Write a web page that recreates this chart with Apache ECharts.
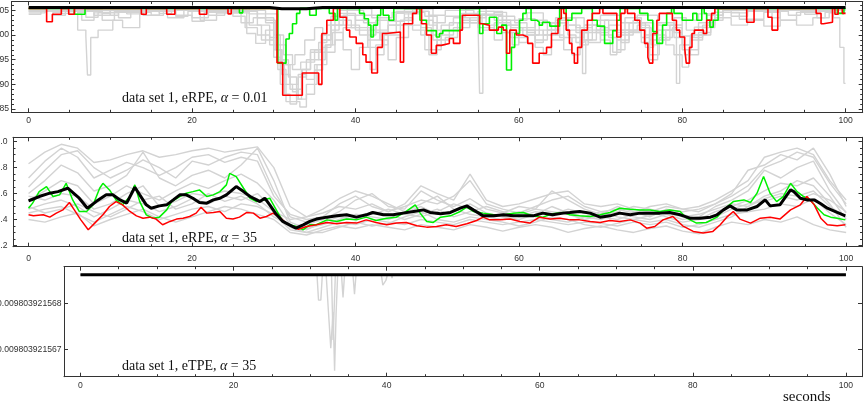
<!DOCTYPE html>
<html>
<head>
<meta charset="utf-8">
<script src="https://cdn.jsdelivr.net/npm/echarts@6/dist/echarts.min.js"></script>
<style>
  html, body { margin: 0; padding: 0; background: #fff; }
  #chart { width: 867px; height: 402px; }
</style>
</head>
<body>
<div id="chart"></div>
<script>
// ---------- ticks ----------
const xMajor = [0, 20, 40, 60, 80, 100]
const xMinor = [5, 10, 15, 25, 30, 35, 45, 50, 55, 65, 70, 75, 85, 90, 95]
const y1Major = [85, 90, 95, 100, 105]
const y1Minor = [86, 87, 88, 89, 91, 92, 93, 94, 96, 97, 98, 99, 101, 102, 103, 104, 106]
const y2Major = [0.2, 0.4, 0.6, 0.8, 1.0]
const y2Minor = [0.25, 0.3, 0.35, 0.45, 0.5, 0.55, 0.65, 0.7, 0.75, 0.85, 0.9, 0.95]
const y3Major = [0.009803921567, 0.009803921568]

// ---------- panel 1: eRPE, alpha = 0.01 (step traces, [t, value] change points) ----------
const p1Black = [[0, 105.6], [29.5, 105.6], [31, 105.35], [34, 105.35], [36, 105.6], [100, 105.6]]
const p1Red = [[0, 105.4], [2.2, 102.7], [2.9, 104.2], [4.0, 105.4], [4.9, 104.2], [5.6, 105.4], [13.8, 104.2], [14.4, 105.4], [16.9, 104.2], [17.9, 105.4], [20.9, 104.2], [21.8, 105.4], [24.4, 104.3], [24.8, 105.4], [30.4, 94.4], [31.1, 87.8], [33.5, 92.3], [35.5, 90], [35.9, 100.3], [36.5, 103], [37.3, 105.4], [38.1, 103.6], [38.9, 101], [39.3, 99.6], [40.1, 98.3], [40.9, 96], [41.3, 94.5], [42, 92.3], [42.7, 97.5], [43.3, 100.3], [43.8, 100.6], [45.5, 94.5], [45.9, 102.3], [47, 104.4], [47.5, 105.4], [48.1, 102.3], [48.7, 100], [49.3, 96.3], [49.9, 97.9], [50.5, 98.3], [51.5, 99.3], [52, 98.3], [52.8, 101], [53.1, 104], [55.2, 102.3], [55.6, 102], [56.4, 101], [57.5, 101.6], [58.1, 101], [58.5, 96.3], [58.9, 101], [59.7, 100], [60.5, 99.6], [61.1, 98.3], [61.7, 94.3], [62.5, 96.3], [63.4, 97.5], [64, 100.3], [64.8, 103.3], [65.2, 105.4], [65.5, 104.4], [65.8, 101], [66.2, 98.3], [66.5, 96.3], [66.8, 94.3], [67.2, 97.5], [67.7, 101], [68.4, 103], [69, 104.4], [69.9, 105.4], [70.3, 104.4], [72, 99.6], [72.5, 104.4], [73, 105.4], [73.3, 104.4], [74.2, 103], [74.8, 101], [75.4, 98.3], [75.8, 95.5], [76, 94.3], [76.4, 100.3], [76.9, 103], [77.2, 104.4], [78.8, 103], [79.3, 101], [79.7, 99.6], [80.3, 97.5], [80.5, 94.3], [80.9, 97.5], [81.2, 100.3], [81.5, 101], [82.6, 100.3], [83, 103], [83.6, 104.4], [84, 105.4], [87.9, 102.6], [88.8, 105.4], [90.5, 103.6], [91, 101], [91.7, 105.4], [96.4, 104.4], [97, 102.3], [97.3, 102.6], [98.4, 105.4], [98.7, 104.2], [99.1, 105.4], [99.6, 104.4], [100, 104.4]]
const p1Green = [[0, 105.4], [5.6, 104.2], [6.9, 105.4], [25.8, 104.5], [26.2, 105.4], [30.5, 94.3], [31.5, 99.2], [31.9, 100.3], [32.3, 102.3], [32.8, 104.4], [33.2, 105.4], [34.4, 104], [35.2, 105.4], [36.8, 104.4], [37.5, 103], [37.8, 105.4], [40.5, 104.4], [41.1, 103.3], [41.6, 102], [41.9, 99.6], [42.2, 102], [42.7, 104], [43.1, 105.4], [43.4, 104], [44.1, 103], [44.7, 105.4], [47.9, 103], [48.7, 100.9], [49.9, 99.6], [50.3, 100.3], [50.7, 100.9], [52.8, 105.4], [55.2, 100.3], [55.6, 102.3], [56.4, 103.6], [57.3, 100.3], [57.9, 102], [58.5, 92.9], [59.1, 97.5], [59.5, 100.3], [60.1, 103], [60.5, 104.4], [60.9, 105.4], [61.5, 103], [62.2, 102.6], [62.5, 102], [62.9, 102.6], [63.8, 101.8], [65, 105.4], [65.8, 103], [66.5, 104.4], [67.7, 105.4], [69, 103], [69.6, 101.8], [70.5, 98.3], [71.5, 100.9], [72, 103], [72.4, 105.4], [74.8, 104.4], [75.8, 103], [76.4, 100.7], [76.9, 98.3], [77.6, 102], [78.1, 104.4], [78.7, 105.4], [79, 104.4], [80, 103], [81.3, 104.4], [81.8, 103], [82.4, 105.4], [82.7, 104.4], [83, 103], [83.4, 101.6], [83.8, 103], [84.4, 105.4], [99, 104.4], [99.8, 105.4], [100, 105.4]]
const p1Gray1 = [[0, 105.2], [3, 104.6], [4, 105.2], [9, 104.4], [10, 105.2], [26.7, 100.3], [27.8, 98.3], [29, 101], [30, 95.5], [30.8, 90], [31.5, 86.5], [33.2, 85.4], [34, 88], [35, 92.9], [36, 97.5], [37, 101], [38, 104.4], [40, 103], [41.5, 99], [43, 100.5], [45, 104.4], [46, 105.2], [48, 103], [49.5, 99], [50.5, 101], [53, 104.4], [55, 103], [55.2, 88.2], [55.6, 101], [57, 102.5], [59, 99.5], [61, 101], [63, 100], [64.5, 103], [66, 101], [67.8, 92.2], [68.2, 99], [69.5, 101], [72, 100], [74, 101], [75.5, 97.5], [76.5, 99], [78, 101], [79.3, 90.2], [79.7, 98], [81, 100], [83, 103], [84.5, 105.2], [100, 105.2]]
const p1Gray2 = [[0, 104.8], [6, 101], [7, 99.8], [7.2, 91.9], [7.6, 99.5], [8.5, 101], [10.3, 103], [11.5, 101.5], [13.6, 105], [17, 103.5], [19, 105], [21, 103], [23, 104.5], [27, 102], [28.5, 99], [30, 97], [31, 94], [32, 89], [33, 87], [34, 90], [35.3, 94], [36.5, 98], [37.5, 103], [39.5, 101.5], [41.8, 93], [42.5, 98], [44, 102], [46, 103.5], [47, 101], [48.5, 97], [50.5, 100], [52, 101.5], [54, 103.5], [56, 104.8], [58, 102], [60, 101], [62, 99], [63.5, 101], [65, 99.5], [66.5, 96], [67.5, 99], [69, 102], [70, 100], [71.5, 96.5], [72.5, 101], [74, 103], [75, 99.5], [76, 95], [77, 99], [78.5, 102], [80, 98], [81, 96], [82, 100], [83.5, 103], [85, 105], [91, 103.5], [92, 105], [100, 105]]
const p1Gray3 = [[0, 105], [8, 104], [10, 105], [14, 104], [16, 105], [20, 103.5], [22, 105], [29, 103], [30.2, 97], [31, 92], [32, 90], [33, 91.5], [34, 95], [35.5, 98.5], [36.5, 102], [38.5, 104], [40, 101], [41.5, 97.5], [42.5, 96], [43.5, 100], [45.5, 103], [47, 104.8], [49, 102], [50, 98], [51, 99.5], [52.5, 102.5], [55, 104.8], [57, 103], [59, 101.5], [60.5, 100], [62, 97.5], [63, 96], [64, 99], [65.5, 102], [67, 100.5], [68.5, 98.5], [70, 101.5], [71, 99.5], [72, 97], [73, 101], [74.5, 102], [76, 99], [77.5, 101], [79, 99.5], [80.3, 96], [81, 99], [82.5, 102], [84, 104.6], [86, 103.8], [88, 104.8], [93, 104], [94.5, 104.8], [98.5, 103.5], [99.3, 97.5], [99.8, 90.2], [100, 90.2]]
const p1Gray4 = [[0, 104.5], [2, 105.1], [5, 104.2], [6.5, 103], [8, 104.5], [11, 103.5], [12.5, 105], [18, 104], [20, 102.8], [21.5, 104.6], [25, 105], [28, 103.5], [30, 100], [31.2, 96], [32.3, 93], [33.3, 94.5], [35, 97], [36, 99], [37, 103], [38, 105], [41, 102.5], [42.5, 100.5], [44, 102], [46.5, 104.6], [48.5, 103.8], [50, 101], [51.5, 102.5], [53, 104], [57, 104.6], [58.5, 100.5], [59.2, 98], [60, 101.5], [62, 103], [63.5, 101], [65, 103.5], [67, 101.5], [69, 103], [71, 101], [73, 103.5], [75, 101.5], [76.2, 98], [77, 101], [79, 103.5], [80.5, 101], [82, 102.5], [84, 104.6], [87, 103.2], [90, 104.6], [92, 103], [94, 104.6], [96.5, 103.5], [97.5, 104.6], [100, 104.6]]
const p1Gray5 = [[0, 105.3], [3, 104], [4.5, 105.3], [12, 104.3], [14, 105.3], [22, 104], [24, 105.3], [27, 104.3], [30.5, 98], [31.5, 94], [32.6, 96], [33.8, 99], [35, 101.5], [36, 99], [37, 102], [39, 105.3], [42, 103.5], [44.5, 104.6], [47, 105.3], [49.5, 102.5], [51, 103.8], [53.5, 105.3], [56, 104], [58, 103], [61, 104.5], [63, 102.5], [66, 103.5], [68, 102], [70, 104], [72.5, 102.5], [74.5, 104], [77, 102], [80, 103], [82, 104.3], [84, 105.3], [86, 104.5], [88, 105.3], [95, 104.2], [96.5, 105.3], [100, 105.3]]
const p1Gray6 = [[0, 104.8], [9, 103], [10.5, 104.8], [18, 103.8], [19.5, 104.8], [28, 102], [29.5, 99.5], [30.5, 95], [31.3, 88], [32, 86], [32.8, 89], [33.5, 93], [34.5, 96.5], [35.8, 100], [37, 103.8], [39, 102], [40.5, 100], [42.5, 103], [45, 104.8], [49, 104], [51, 105], [54.5, 104.2], [56, 102], [57.5, 103.8], [59.5, 102.5], [61, 100.5], [62, 98.5], [63, 101], [64.5, 103.5], [66, 102], [67.5, 98], [68.5, 101], [70.5, 103], [72, 100.5], [73.5, 102.5], [75.5, 100], [77, 102.5], [79, 100.5], [80, 97], [81, 99.5], [82.5, 101.5], [84, 103.5], [86, 102], [88, 103], [90, 101.8], [92, 103], [94, 102], [96, 103.5], [98, 104.5], [100, 104.5]]
const p1Gray7 = [[0, 105.1], [6, 104.6], [7, 103.6], [8.5, 104.6], [15, 104], [16.5, 105.1], [25, 103.8], [26.5, 101.5], [28, 100], [29.5, 98], [30.5, 93], [31.5, 90], [32.3, 88.5], [33, 92], [34, 91], [35, 94], [36, 96.5], [37.5, 99], [38.5, 101.5], [40, 104], [43, 101], [44, 102.8], [46, 104.3], [48, 101.5], [49.3, 100], [50.5, 102], [52, 103.5], [54, 102.5], [55.5, 104.2], [58, 102], [60, 103.3], [62, 100], [64, 102.5], [66, 100], [67, 98.5], [68, 100.5], [70, 99], [71.2, 96], [72, 99], [73.5, 100.8], [75, 98.5], [76, 96], [77.2, 99.5], [78.8, 101.5], [80, 99.8], [81.5, 101.6], [83, 104], [85, 105.1], [100, 105.1]]
const p1Gray8 = [[0, 104.2], [1.5, 105], [4, 104.4], [5.5, 105], [10, 104], [11, 105], [16, 104.4], [17.5, 105], [23, 104.5], [26, 102.5], [27.5, 103.5], [29, 102.5], [30.2, 100], [30.8, 95], [31.8, 91.5], [32.8, 87], [33.4, 93], [34.5, 97], [35.5, 95], [36.3, 98], [37.2, 100.5], [38.5, 97], [39.5, 93], [40.5, 97.5], [41.5, 101], [43, 99], [44, 95], [45, 99.5], [46.5, 102], [48, 100], [49, 96], [50, 99], [51.5, 101], [53, 103], [55, 101.5], [57, 99], [58, 100.5], [60, 98.5], [61, 100], [62.5, 102.5], [64.5, 100], [65.5, 97], [66.5, 99.5], [68, 102], [69.5, 100.5], [71, 102], [72.5, 98.5], [73.5, 100.5], [75, 102.5], [76.5, 100], [78, 98], [79, 96], [80, 93.5], [80.8, 97], [82, 100.5], [83.5, 104], [85, 105], [100, 105]]

// ---------- panel 2: eRPE, alpha = 35 ----------
const p2Black = [[0, 0.544], [0.5, 0.556], [1.3, 0.577], [2.6, 0.603], [3.6, 0.615], [4.8, 0.641], [6.2, 0.564], [7.2, 0.487], [8.3, 0.54], [9.5, 0.59], [10.3, 0.59], [11.2, 0.551], [12, 0.526], [13, 0.649], [13.6, 0.59], [14.4, 0.513], [15, 0.487], [16, 0.505], [16.9, 0.513], [17.7, 0.551], [18.5, 0.59], [19.3, 0.59], [20.1, 0.564], [20.9, 0.531], [21.8, 0.526], [22.6, 0.551], [23.4, 0.564], [24.2, 0.59], [25, 0.633], [25.4, 0.654], [26.3, 0.615], [27.1, 0.577], [27.9, 0.551], [28.3, 0.538], [28.9, 0.564], [29.5, 0.513], [30.3, 0.44], [31.1, 0.385], [31.9, 0.359], [32.7, 0.333], [33.6, 0.359], [34.4, 0.385], [35.2, 0.403], [36.5, 0.418], [37.7, 0.428], [38.9, 0.436], [40.1, 0.418], [41.3, 0.436], [42.1, 0.454], [43.4, 0.436], [44.6, 0.436], [45.8, 0.449], [47.1, 0.462], [48.3, 0.474], [49.1, 0.454], [50.4, 0.444], [51.6, 0.454], [52.8, 0.487], [53.6, 0.505], [54.4, 0.474], [55.6, 0.428], [56.9, 0.428], [58.1, 0.436], [59.3, 0.428], [60.5, 0.428], [61.7, 0.428], [62.9, 0.449], [64.1, 0.436], [65.4, 0.449], [66.2, 0.454], [67.4, 0.462], [68.7, 0.449], [69.9, 0.418], [71.1, 0.428], [72.3, 0.449], [73.6, 0.436], [74.8, 0.449], [76, 0.449], [77.2, 0.449], [78.4, 0.454], [79.7, 0.436], [80.9, 0.41], [82.1, 0.41], [83.4, 0.418], [84.2, 0.436], [85, 0.474], [85.8, 0.505], [86.6, 0.474], [87.9, 0.474], [89.1, 0.5], [90.1, 0.551], [90.7, 0.505], [91.9, 0.513], [93.2, 0.628], [93.6, 0.615], [94.4, 0.564], [95.2, 0.551], [96.1, 0.551], [96.9, 0.521], [97.7, 0.487], [98.9, 0.454], [99.9, 0.428]]
const p2Red = [[0, 0.436], [0.6, 0.428], [1.8, 0.436], [2.6, 0.418], [3.4, 0.449], [4.2, 0.474], [5, 0.531], [5.6, 0.474], [6.4, 0.397], [7.3, 0.321], [8.1, 0.372], [9.1, 0.436], [9.9, 0.5], [10.7, 0.538], [11.5, 0.513], [12.4, 0.462], [13.2, 0.428], [14, 0.41], [14.8, 0.418], [15.6, 0.403], [16.4, 0.359], [17.3, 0.385], [18.1, 0.403], [18.9, 0.41], [19.7, 0.423], [20.5, 0.449], [21.1, 0.495], [21.8, 0.449], [22.6, 0.454], [23.4, 0.462], [24.2, 0.41], [25, 0.403], [25.8, 0.418], [26.7, 0.454], [27.5, 0.449], [28.3, 0.41], [29.1, 0.423], [29.9, 0.449], [30.7, 0.418], [31.5, 0.37], [32.3, 0.346], [33, 0.325], [34, 0.346], [35.2, 0.359], [36.5, 0.377], [37.7, 0.367], [38.9, 0.377], [40.1, 0.372], [41.3, 0.397], [42.5, 0.377], [43.8, 0.359], [45, 0.372], [46.2, 0.377], [47.5, 0.351], [48.7, 0.341], [49.9, 0.346], [51.1, 0.359], [52.3, 0.346], [53.6, 0.367], [54.8, 0.392], [55.6, 0.418], [56.4, 0.397], [57.7, 0.397], [58.9, 0.403], [60.1, 0.385], [61.3, 0.372], [62.5, 0.418], [63.8, 0.403], [65, 0.41], [66.2, 0.397], [67.4, 0.397], [68.7, 0.385], [69.9, 0.377], [71.1, 0.392], [72.3, 0.385], [73.6, 0.397], [74.8, 0.372], [75.6, 0.333], [76.6, 0.346], [77.6, 0.397], [78.8, 0.423], [80, 0.351], [81.3, 0.308], [82.5, 0.295], [83.7, 0.308], [84.6, 0.359], [85.4, 0.418], [86.2, 0.462], [87, 0.403], [88.3, 0.372], [89.5, 0.41], [90.7, 0.418], [91.9, 0.403], [93.2, 0.474], [94.4, 0.513], [95.2, 0.577], [96.1, 0.513], [96.9, 0.41], [97.7, 0.359], [98.9, 0.351], [99.9, 0.359]]
const p2Green = [[0, 0.487], [0.5, 0.526], [1.3, 0.615], [2.2, 0.654], [3, 0.577], [3.8, 0.59], [4.6, 0.679], [5.4, 0.551], [6.2, 0.462], [7.1, 0.462], [7.9, 0.513], [8.7, 0.641], [9.1, 0.679], [9.9, 0.628], [10.7, 0.551], [11.5, 0.513], [12.4, 0.577], [13, 0.667], [13.6, 0.538], [14.4, 0.436], [15.2, 0.41], [16, 0.418], [16.9, 0.474], [17.5, 0.538], [18.5, 0.577], [19.3, 0.603], [20.1, 0.615], [20.9, 0.628], [21.8, 0.577], [22.6, 0.59], [23.4, 0.615], [24.2, 0.667], [24.6, 0.756], [25.4, 0.731], [26.3, 0.641], [27.1, 0.564], [27.9, 0.538], [28.7, 0.551], [29.5, 0.564], [30.3, 0.474], [31.1, 0.385], [31.9, 0.359], [32.7, 0.346], [33.6, 0.321], [34.4, 0.359], [35.2, 0.359], [36.5, 0.397], [37.7, 0.385], [38.9, 0.403], [40.1, 0.397], [41.3, 0.418], [42.5, 0.392], [43.8, 0.41], [45, 0.418], [46.2, 0.462], [47.3, 0.513], [47.9, 0.449], [48.7, 0.385], [49.5, 0.377], [50.4, 0.418], [51.6, 0.428], [52.8, 0.462], [53.6, 0.495], [54.4, 0.462], [55.6, 0.449], [56.9, 0.436], [58.1, 0.436], [59.3, 0.449], [60.5, 0.454], [61.7, 0.428], [62.9, 0.418], [64.1, 0.444], [65.4, 0.454], [66.2, 0.436], [67.4, 0.428], [68.7, 0.423], [69.9, 0.436], [71.1, 0.454], [72.3, 0.487], [73.6, 0.479], [74.8, 0.474], [76, 0.474], [77.2, 0.462], [78.4, 0.474], [79.7, 0.462], [80.5, 0.41], [81.7, 0.372], [82.9, 0.377], [84.2, 0.418], [85, 0.474], [86.2, 0.538], [87.5, 0.551], [88.3, 0.531], [89.1, 0.603], [89.9, 0.731], [90.1, 0.744], [90.7, 0.603], [91.5, 0.538], [92.3, 0.577], [93.2, 0.679], [94, 0.615], [94.8, 0.577], [95.6, 0.551], [96.5, 0.487], [97.3, 0.436], [98.1, 0.418], [98.9, 0.41], [99.9, 0.397]]
// gray runs sampled every 2 s
const t2 = [0, 2, 4, 6, 8, 10, 12, 14, 16, 18, 20, 22, 24, 26, 28, 30, 32, 34, 36, 38, 40, 42, 44, 46, 48, 50, 52, 54, 56, 58, 60, 62, 64, 66, 68, 70, 72, 74, 76, 78, 80, 82, 84, 86, 88, 90, 92, 94, 96, 98, 100]
const p2Gray1 = [0.83, 0.92, 0.98, 0.95, 0.84, 0.86, 0.90, 0.93, 0.88, 0.90, 0.93, 0.95, 0.92, 0.94, 0.96, 0.80, 0.50, 0.42, 0.45, 0.50, 0.48, 0.52, 0.46, 0.50, 0.55, 0.52, 0.58, 0.70, 0.52, 0.48, 0.45, 0.50, 0.55, 0.58, 0.50, 0.46, 0.48, 0.45, 0.50, 0.52, 0.48, 0.50, 0.55, 0.62, 0.70, 0.88, 0.92, 0.95, 0.90, 0.70, 0.55]
const p2Gray2 = [0.65, 0.78, 0.90, 0.93, 0.80, 0.72, 0.78, 0.86, 0.80, 0.72, 0.85, 0.82, 0.88, 0.92, 0.90, 0.62, 0.42, 0.38, 0.40, 0.46, 0.55, 0.60, 0.50, 0.48, 0.62, 0.55, 0.50, 0.56, 0.48, 0.45, 0.50, 0.48, 0.62, 0.55, 0.48, 0.44, 0.50, 0.46, 0.42, 0.48, 0.46, 0.48, 0.52, 0.60, 0.78, 0.82, 0.90, 0.86, 0.95, 0.75, 0.50]
const p2Gray3 = [0.60, 0.70, 0.82, 0.76, 0.62, 0.66, 0.74, 0.92, 0.72, 0.66, 0.74, 0.78, 0.72, 0.82, 0.95, 0.70, 0.38, 0.33, 0.36, 0.40, 0.44, 0.42, 0.40, 0.45, 0.50, 0.44, 0.46, 0.52, 0.45, 0.42, 0.40, 0.44, 0.50, 0.45, 0.42, 0.40, 0.45, 0.42, 0.40, 0.44, 0.40, 0.42, 0.50, 0.55, 0.62, 0.78, 0.72, 0.80, 0.85, 0.62, 0.45]
const p2Gray4 = [0.55, 0.62, 0.70, 0.66, 0.52, 0.58, 0.66, 0.60, 0.55, 0.62, 0.68, 0.64, 0.70, 0.75, 0.68, 0.55, 0.36, 0.32, 0.38, 0.42, 0.40, 0.46, 0.44, 0.40, 0.44, 0.48, 0.42, 0.46, 0.50, 0.46, 0.42, 0.46, 0.44, 0.48, 0.45, 0.42, 0.40, 0.44, 0.46, 0.42, 0.38, 0.40, 0.46, 0.50, 0.55, 0.62, 0.68, 0.66, 0.72, 0.58, 0.40]
const p2Gray5 = [0.40, 0.38, 0.42, 0.45, 0.35, 0.40, 0.44, 0.48, 0.42, 0.38, 0.42, 0.46, 0.50, 0.48, 0.44, 0.40, 0.30, 0.28, 0.32, 0.35, 0.33, 0.36, 0.34, 0.32, 0.36, 0.34, 0.32, 0.36, 0.34, 0.31, 0.34, 0.36, 0.34, 0.30, 0.33, 0.35, 0.32, 0.30, 0.33, 0.35, 0.31, 0.29, 0.34, 0.38, 0.36, 0.40, 0.38, 0.42, 0.36, 0.32, 0.30]
const p2Gray6 = [0.48, 0.52, 0.55, 0.50, 0.42, 0.48, 0.55, 0.52, 0.46, 0.50, 0.56, 0.52, 0.58, 0.55, 0.60, 0.48, 0.34, 0.30, 0.34, 0.38, 0.36, 0.40, 0.38, 0.36, 0.40, 0.38, 0.36, 0.40, 0.38, 0.36, 0.38, 0.40, 0.38, 0.36, 0.38, 0.37, 0.35, 0.38, 0.36, 0.38, 0.34, 0.36, 0.40, 0.44, 0.46, 0.48, 0.52, 0.50, 0.56, 0.45, 0.36]
const p2Gray7 = [0.58, 0.55, 0.60, 0.58, 0.48, 0.52, 0.60, 0.66, 0.50, 0.54, 0.60, 0.58, 0.62, 0.60, 0.56, 0.46, 0.40, 0.42, 0.48, 0.56, 0.62, 0.58, 0.52, 0.46, 0.52, 0.58, 0.48, 0.44, 0.42, 0.40, 0.44, 0.48, 0.46, 0.44, 0.40, 0.43, 0.46, 0.50, 0.48, 0.45, 0.42, 0.44, 0.48, 0.52, 0.50, 0.56, 0.60, 0.58, 0.62, 0.50, 0.42]
const p2Gray8 = [0.45, 0.48, 0.50, 0.44, 0.38, 0.44, 0.50, 0.46, 0.40, 0.44, 0.48, 0.50, 0.46, 0.52, 0.50, 0.44, 0.32, 0.30, 0.30, 0.34, 0.38, 0.35, 0.37, 0.42, 0.46, 0.40, 0.38, 0.42, 0.40, 0.38, 0.35, 0.38, 0.42, 0.40, 0.36, 0.34, 0.37, 0.40, 0.38, 0.40, 0.36, 0.34, 0.38, 0.42, 0.50, 0.58, 0.62, 0.70, 0.66, 0.52, 0.34]
const p2Gray9 = [0.72, 0.85, 0.95, 0.88, 0.72, 0.78, 0.84, 0.80, 0.74, 0.80, 0.88, 0.90, 0.84, 0.88, 0.85, 0.58, 0.44, 0.40, 0.42, 0.52, 0.58, 0.50, 0.46, 0.52, 0.66, 0.60, 0.55, 0.75, 0.55, 0.50, 0.52, 0.56, 0.60, 0.62, 0.52, 0.50, 0.52, 0.48, 0.46, 0.50, 0.48, 0.46, 0.52, 0.58, 0.66, 0.80, 0.85, 0.92, 0.88, 0.68, 0.52]
const p2Gray10 = [0.50, 0.45, 0.48, 0.52, 0.46, 0.42, 0.48, 0.55, 0.58, 0.48, 0.52, 0.60, 0.54, 0.58, 0.52, 0.42, 0.35, 0.36, 0.40, 0.44, 0.42, 0.44, 0.48, 0.44, 0.42, 0.46, 0.52, 0.48, 0.44, 0.42, 0.46, 0.42, 0.40, 0.38, 0.42, 0.46, 0.42, 0.40, 0.43, 0.46, 0.44, 0.40, 0.42, 0.48, 0.52, 0.54, 0.58, 0.55, 0.60, 0.55, 0.46]

// ---------- panel 3: eTPE, alpha = 35 ----------
const p3Level = 0.009803921568627
const p3Black = [[0, p3Level], [100, p3Level]]
const p3Gray1 = [[0, p3Level], [30.9, p3Level], [31.1, 0.00980392156807], [31.4, 0.00980392156807], [31.6, p3Level], [100, p3Level]]
const p3Gray2 = [[0, p3Level], [32.1, p3Level], [32.4, 0.00980392156781], [32.7, 0.00980392156702], [33.0, 0.00980392156781], [33.2, 0.00980392156653], [33.4, 0.0098039215678], [33.6, p3Level], [100, p3Level]]
const p3Gray3 = [[0, p3Level], [32.8, p3Level], [33.0, 0.0098039215672], [33.3, p3Level], [34.1, p3Level], [34.3, 0.00980392156813], [34.5, p3Level], [100, p3Level]]
const p3Gray4 = [[0, p3Level], [35.6, p3Level], [35.8, 0.0098039215682], [36.0, p3Level], [39.3, p3Level], [39.5, 0.0098039215684], [39.7, 0.00980392156837], [39.9, 0.0098039215685], [40.1, p3Level], [40.6, p3Level], [40.7, 0.00980392156855], [40.8, p3Level], [100, p3Level]]

const GRAY = '#d3d3d3', RED = '#ff0000', GREEN = '#00f000', BLACK = '#000000'
const FRAME = '#333333'

const chart = echarts.init(document.getElementById('chart'))

const xAxes = [], yAxes = []
function frame(grid, xr, yr, yMajor, yMinor, yFmt, xMargin, yMargin) {
  const lab = { fontSize: 8.6, color: '#333', fontFamily: 'Liberation Sans' }
  const line = { show: true, onZero: false, lineStyle: { color: FRAME, width: 1 } }
  const noLine = { show: false, onZero: false }
  const tick = (vals, len) => ({ show: vals.length > 0, inside: true, length: len, customValues: vals, lineStyle: { color: FRAME, width: 1 } })
  const base = { gridIndex: grid, type: 'value', splitLine: { show: false } }
  ;['bottom', 'top'].forEach(pos => {
    xAxes.push({ ...base, position: pos, min: xr[0], max: xr[1], axisLine: line, axisTick: tick(xMajor, 4),
      axisLabel: pos === 'bottom' ? { ...lab, margin: xMargin, customValues: xMajor } : { show: false } })
    xAxes.push({ ...base, position: pos, min: xr[0], max: xr[1], axisLine: noLine, axisTick: tick(xMinor, 2.5), axisLabel: { show: false } })
  })
  ;['left', 'right'].forEach(pos => {
    yAxes.push({ ...base, position: pos, min: yr[0], max: yr[1], axisLine: line, axisTick: tick(yMajor, 4),
      axisLabel: pos === 'left' ? { ...lab, margin: yMargin, customValues: yMajor, formatter: yFmt } : { show: false } })
    yAxes.push({ ...base, position: pos, min: yr[0], max: yr[1], axisLine: noLine, axisTick: tick(yMinor, 2.5), axisLabel: { show: false } })
  })
}
frame(0, [-2.1, 102.1], [84.33, 106.8], y1Major, y1Minor, v => String(v), 4, 2.5)
frame(1, [-1.9, 102.0], [0.19, 1.034], y2Major, y2Minor, v => v.toFixed(1), 7, 5.5)
frame(2, [-2.15, 102.1], [0.0098039215664, 0.0098039215688], y3Major, [], v => v.toFixed(12), 4.5, 2.5)

function ln(panel, data, color, width, step) {
  return { type: 'line', xAxisIndex: panel * 4, yAxisIndex: panel * 4, data, step: step ? 'end' : false,
    showSymbol: false, symbol: 'none', silent: true, lineStyle: { color, width }, itemStyle: { color } }
}
const pairs = vals => t2.map((t, i) => [t, vals[i]])

const series = [
  ...[p1Gray1, p1Gray2, p1Gray3, p1Gray4, p1Gray5, p1Gray6, p1Gray7, p1Gray8].map(d => ln(0, d, GRAY, 1.4, true)),
  ln(0, p1Green, GREEN, 1.6, true),
  ln(0, p1Red, RED, 1.6, true),
  ln(0, p1Black, BLACK, 3, false),
  ...[p2Gray1, p2Gray2, p2Gray3, p2Gray4, p2Gray5, p2Gray6, p2Gray7, p2Gray8, p2Gray9, p2Gray10].map(d => ln(1, pairs(d), GRAY, 1.4, false)),
  ln(1, p2Green, GREEN, 1.5, false),
  ln(1, p2Red, RED, 1.5, false),
  ln(1, p2Black, BLACK, 3, false),
  ...[p3Gray1, p3Gray2, p3Gray3, p3Gray4].map(d => ln(2, d, GRAY, 1.4, false)),
  ln(2, p3Black, BLACK, 3, false)
]

const serif = 'Liberation Serif'
const note = (top, txt) => ({
  type: 'text', left: 122, top, silent: true,
  style: { text: txt, fill: '#111', fontFamily: serif, fontSize: 14,
    rich: { a: { fontStyle: 'italic', fontFamily: serif, fontSize: 14, fill: '#111' } } }
})

chart.setOption({
  animation: false,
  backgroundColor: '#fff',
  grid: [
    { left: 11.5, top: 1.5, width: 851.2, height: 110.8, outerBoundsMode: 'none', containLabel: false },
    { left: 13, top: 137.3, width: 849.5, height: 109.4, outerBoundsMode: 'none', containLabel: false },
    { left: 64, top: 266.7, width: 798, height: 110, outerBoundsMode: 'none', containLabel: false }
  ],
  xAxis: xAxes,
  yAxis: yAxes,
  series,
  graphic: [
    note(91.3, 'data set 1, eRPE, {a|α} = 0.01'),
    note(231.5, 'data set 1, eRPE, {a|α} = 35'),
    note(359.7, 'data set 1, eTPE, {a|α} = 35'),
    { type: 'text', left: 783, top: 389.5, silent: true, style: { text: 'seconds', fill: '#111', fontFamily: serif, fontSize: 15 } }
  ]
})
window.addEventListener('resize', () => chart.resize())
</script>
</body>
</html>
